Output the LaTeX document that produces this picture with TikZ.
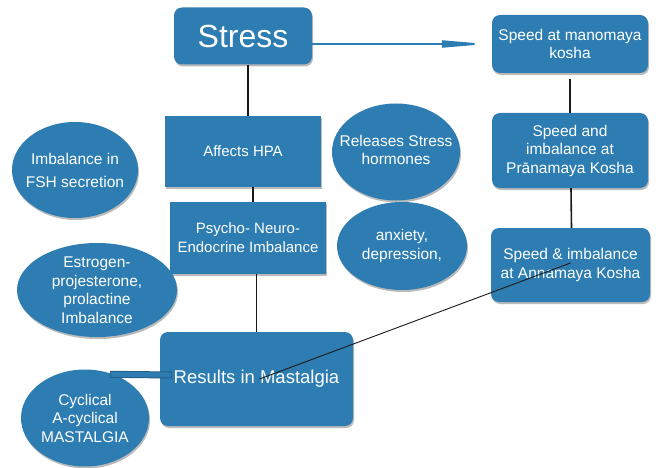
\documentclass[tikz,border=0pt]{standalone}
\usepackage{fontspec}
\setmainfont{Liberation Sans}
\usetikzlibrary{shapes.geometric,shadows,arrows.meta,calc}
\definecolor{boxblue}{HTML}{2D7DB3}
\definecolor{barblue}{HTML}{2A76AA}
\begin{document}
\begin{tikzpicture}[x=1pt,y=-1pt,
  shad/.style={drop shadow={shadow xshift=1pt,shadow yshift=-2pt,fill=black!45,opacity=0.6}},
  rbox/.style={shad,fill=boxblue,text=white,rounded corners=8pt,inner sep=2pt,align=center,font=\fontsize{15.5}{18.5}\selectfont},
  sbox/.style={shad,fill=boxblue,text=white,inner sep=2pt,align=center,font=\fontsize{15}{19}\selectfont},
  oval/.style={shad,ellipse,fill=boxblue,inner sep=0pt},
  ovaltext/.style={text=white,align=center,inner sep=0pt,font=\fontsize{15.5}{18.5}\selectfont},
  link/.style={draw=black!90,line width=1.6pt},
  thin link/.style={draw=black!90,line width=0.9pt}]
\useasboundingbox (0,0) rectangle (656,468);

% boxes
\node[rbox,minimum width=138pt,minimum height=57pt,font=\fontsize{32}{36}\selectfont] (stress) at (243,36) {Stress};
\node[rbox,minimum width=156pt,minimum height=58pt] (mano) at (570,44) {Speed at manomaya\\kosha};
\node[rbox,minimum width=156pt,minimum height=75pt] (prana) at (570,150.5) {Speed and\\imbalance at\\Prānamaya Kosha};
\node[rbox,minimum width=159pt,minimum height=74pt] (anna) at (570.5,265) {Speed \& imbalance\\at Annamaya Kosha};
\node[sbox,minimum width=156pt,minimum height=71pt] (hpa) at (243,151.5) {Affects HPA};
\node[sbox,minimum width=156pt,minimum height=72pt] (pne) at (248,238) {Psycho- Neuro-\\Endocrine Imbalance};
\node[rbox,minimum width=193pt,minimum height=94pt,font=\fontsize{18.5}{22}\selectfont] (results) at (256.5,379) {Results in Mastalgia};

% ellipses
\node[oval,minimum width=126pt,minimum height=96pt] (fsh) at (75,170) {};
\node[ovaltext,font=\fontsize{15.5}{23}\selectfont] (fshtext) at (fsh) {Imbalance in\\FSH secretion};
\node[oval,minimum width=160pt,minimum height=94pt] (estro) at (97,290) {};
\node[ovaltext] (estrotext) at (estro) {Estrogen-\\projesterone,\\prolactine\\Imbalance};
\node[oval,minimum width=128pt,minimum height=97pt] (rel) at (396,152) {};
\node[ovaltext] (reltext) at ([yshift=2pt]rel.center) {Releases Stress\\hormones};
\node[oval,minimum width=130pt,minimum height=88pt] (anx) at (402,246) {};
\node[ovaltext] (anxtext) at (anx) {anxiety,\\depression,};
\node[oval,minimum width=128pt,minimum height=97pt] (cyc) at (85,418) {};
\node[ovaltext] (cyctext) at (cyc) {Cyclical\\A-cyclical\\MASTALGIA};

% connectors
\draw[draw=boxblue,line width=2pt,-{Triangle[length=46pt,width=7pt]},shorten >=4pt]
  ([yshift=-8pt]stress.east) -- (mano.west);
\draw[link] ([xshift=5pt]stress.south) -- ([xshift=5pt]hpa.north);
\draw[link] ([xshift=10pt]hpa.south) -- ([xshift=5pt]pne.north);
\draw[link] (results.north |- pne.south) -- (results.north);
\draw[link] (mano.south) ++(0,6) -- (prana.north);
\draw[link] ([xshift=1pt]prana.south) -- ([xshift=1pt]anna.north);
\draw[thin link] ([yshift=2pt]anna.center) -- ([xshift=3pt]results.center);
\draw[draw=barblue!80!black,line width=7pt] ([xshift=25pt,yshift=-5pt]cyc.north) -- ([xshift=12pt,yshift=4pt]results.west);
\draw[draw=boxblue,line width=5pt] ([xshift=26pt,yshift=-5pt]cyc.north) -- ([xshift=11pt,yshift=4pt]results.west);
\end{tikzpicture}
\end{document}
